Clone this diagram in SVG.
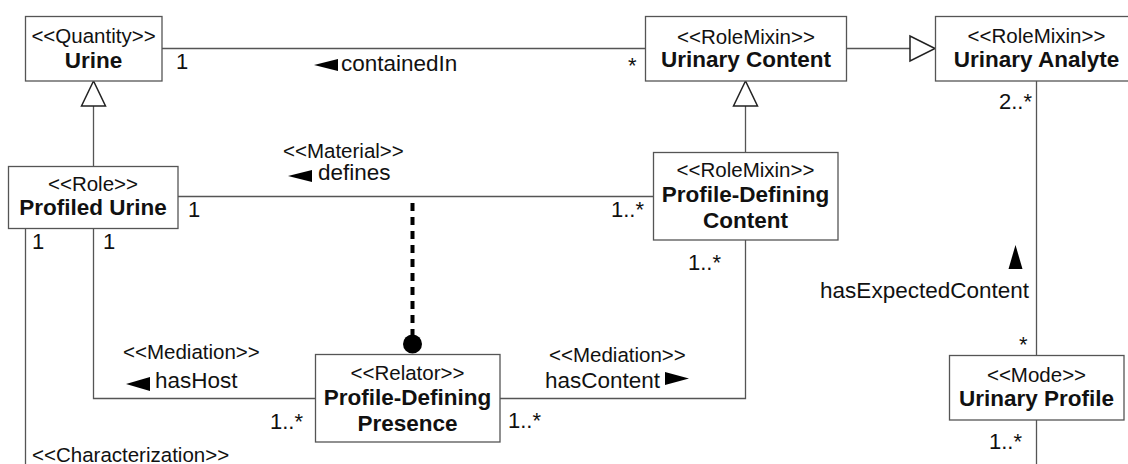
<svg xmlns="http://www.w3.org/2000/svg" width="1128" height="464" viewBox="0 0 1128 464">
<defs>
<style>
.box{fill:#fff;stroke:#555;stroke-width:1.3}
.ln{fill:none;stroke:#555;stroke-width:1.3}
.gen{fill:#fff;stroke:#222;stroke-width:1.5}
.dir{fill:#000;stroke:none}
text{font-family:"Liberation Sans",Arial,sans-serif;fill:#111}
.st{font-size:20.5px;text-anchor:middle}
.nm{font-size:22.5px;font-weight:bold;text-anchor:middle}
.lb{font-size:22.5px}
.sl{font-size:20.5px}
.mu{font-size:22px}
</style>
</defs>
<rect width="1128" height="464" fill="#fff"/>
<g id="connectors">
<path class="ln" d="M162 48.5H645"/>
<path class="ln" d="M846.5 48.5H910"/>
<polygon class="gen" points="935,48.5 910,36 910,61"/>
<path class="ln" d="M93.5 166V106"/>
<polygon class="gen" points="93.5,81 81.5,106 105.5,106"/>
<path class="ln" d="M745.5 152V106"/>
<polygon class="gen" points="745.5,81 733.5,106 757.5,106"/>
<path class="ln" d="M178 196.5H653"/>
<path d="M412.5 203V336" fill="none" stroke="#000" stroke-width="4" stroke-dasharray="8,6"/>
<circle cx="412.5" cy="344" r="9.5" fill="#000"/>
<path class="ln" d="M93.5 228V398.5H315"/>
<path class="ln" d="M500 398.5H745.5V240"/>
<path class="ln" d="M25.5 228V464"/>
<path class="ln" d="M1036.5 81V355"/>
<path class="ln" d="M1036.5 420V464"/>
<polygon class="dir" points="314,65 338,59 338,71"/>
<polygon class="dir" points="288,176 312,170 312,182"/>
<polygon class="dir" points="126,384 150,377 150,391"/>
<polygon class="dir" points="665,372 689,378.5 665,385"/>
<polygon class="dir" points="1015.5,245 1008.5,269 1022.5,269"/>
<text class="mu" x="176" y="69">1</text>
<text class="lb" x="341" y="71">containedIn</text>
<text class="mu" x="628" y="73">*</text>
<text class="sl" x="283" y="158">&lt;&lt;Material&gt;&gt;</text>
<text class="lb" x="318" y="180">defines</text>
<text class="mu" x="188" y="217">1</text>
<text class="mu" x="611" y="217">1..*</text>
<text class="mu" x="32" y="249">1</text>
<text class="mu" x="103" y="249">1</text>
<text class="sl" x="123" y="359">&lt;&lt;Mediation&gt;&gt;</text>
<text class="lb" x="155" y="387.5">hasHost</text>
<text class="mu" x="270" y="429">1..*</text>
<text class="sl" x="32" y="462">&lt;&lt;Characterization&gt;&gt;</text>
<text class="mu" x="688" y="270">1..*</text>
<text class="sl" x="549" y="361.5">&lt;&lt;Mediation&gt;&gt;</text>
<text class="lb" x="545" y="387.5">hasContent</text>
<text class="mu" x="508" y="428">1..*</text>
<text class="mu" x="999" y="109">2..*</text>
<text class="lb" x="1029" y="298" text-anchor="end">hasExpectedContent</text>
<text class="mu" x="1019" y="352">*</text>
<text class="mu" x="989" y="449">1..*</text>
</g>
<g id="urine">
<rect class="box" x="25.5" y="16.5" width="136.5" height="64.5"/>
<text class="st" x="93.5" y="42.5">&lt;&lt;Quantity&gt;&gt;</text>
<text class="nm" x="93.5" y="67.5">Urine</text>
</g>
<g id="urinary-content">
<rect class="box" x="645.5" y="16.5" width="201" height="64.5"/>
<text class="st" x="746" y="43.5">&lt;&lt;RoleMixin&gt;&gt;</text>
<text class="nm" x="746" y="67">Urinary Content</text>
</g>
<g id="urinary-analyte">
<rect class="box" x="935.5" y="16.5" width="210" height="64.5"/>
<text class="st" x="1036.5" y="43">&lt;&lt;RoleMixin&gt;&gt;</text>
<text class="nm" x="1036.5" y="67">Urinary Analyte</text>
</g>
<g id="profiled-urine">
<rect class="box" x="8.5" y="166.5" width="169.5" height="62"/>
<text class="st" x="93" y="190.5">&lt;&lt;Role&gt;&gt;</text>
<text class="nm" x="93" y="215">Profiled Urine</text>
</g>
<g id="profile-defining-content">
<rect class="box" x="653.5" y="152.5" width="184.5" height="87.5"/>
<text class="st" x="745.5" y="176.5">&lt;&lt;RoleMixin&gt;&gt;</text>
<text class="nm" x="745.5" y="201.5">Profile-Defining</text>
<text class="nm" x="745.5" y="227.5">Content</text>
</g>
<g id="profile-defining-presence">
<rect class="box" x="315.5" y="354.5" width="184.5" height="87.5"/>
<text class="st" x="407.5" y="379.5">&lt;&lt;Relator&gt;&gt;</text>
<text class="nm" x="407.5" y="404.5">Profile-Defining</text>
<text class="nm" x="407.5" y="430.5">Presence</text>
</g>
<g id="urinary-profile">
<rect class="box" x="949.5" y="355.5" width="174.5" height="64.5"/>
<text class="st" x="1036.5" y="381.5">&lt;&lt;Mode&gt;&gt;</text>
<text class="nm" x="1036.5" y="406">Urinary Profile</text>
</g>
</svg>
